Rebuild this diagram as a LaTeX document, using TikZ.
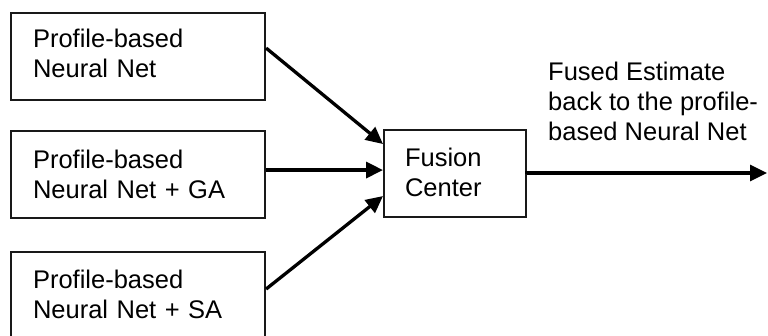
\documentclass[tikz,border=0pt]{standalone}
\usepackage{fontspec}
\setmainfont{Liberation Sans}
\usetikzlibrary{arrows.meta}
\begin{document}
\begin{tikzpicture}[x=1pt,y=-1pt,
  srcbox/.style={draw=black!90, line width=2.1pt, minimum width=254pt, minimum height=87pt,
    text width=210pt, inner xsep=21pt, align=left, anchor=north west,
    font=\fontsize{25.5pt}{30pt}\selectfont},
  fusebox/.style={draw=black!90, line width=2.1pt, minimum width=135pt, minimum height=87pt,
    text width=100pt, inner xsep=21pt, align=left, anchor=north west,
    font=\fontsize{25.5pt}{30pt}\selectfont},
  plain/.style={align=left, inner sep=0pt, font=\fontsize{25.5pt}{30pt}\selectfont},
  conn/.style={line width=3.3pt, -{Triangle[length=17pt,width=16pt]}}]
\useasboundingbox (0,0) rectangle (768,336);
\clip (0,0) rectangle (768,336);
\node[srcbox] (b1) at (10,12) {Profile-based\\Neural Net\rule[-6pt]{0pt}{6pt}};
\node[srcbox] (b2) at (10,130) {Profile-based\\Neural Net + GA};
\node[srcbox] (b3) at (10,251) {Profile-based\\Neural Net + SA\rule[-3pt]{0pt}{3pt}};
\node[fusebox] (fc) at (383,129) {Fusion\\Center\rule[-3pt]{0pt}{3pt}};
\node[plain, anchor=north west] (out) at (548,62) {Fused Estimate\\back to the profile-\\based Neural Net};
\coordinate (end) at (767,173);
\draw[conn] ([yshift=8.5pt]b1.east) -- ([yshift=29.5pt]fc.west);
\draw[conn] ([yshift=4.5pt]b2.east) -- ([yshift=4.5pt]b2.east -| fc.west);
\draw[conn] ([yshift=6.5pt]b3.east) -- ([yshift=-22.5pt]fc.west);
\draw[conn] (fc.east) -- (end -| fc.east) -- (end);
\end{tikzpicture}
\end{document}
